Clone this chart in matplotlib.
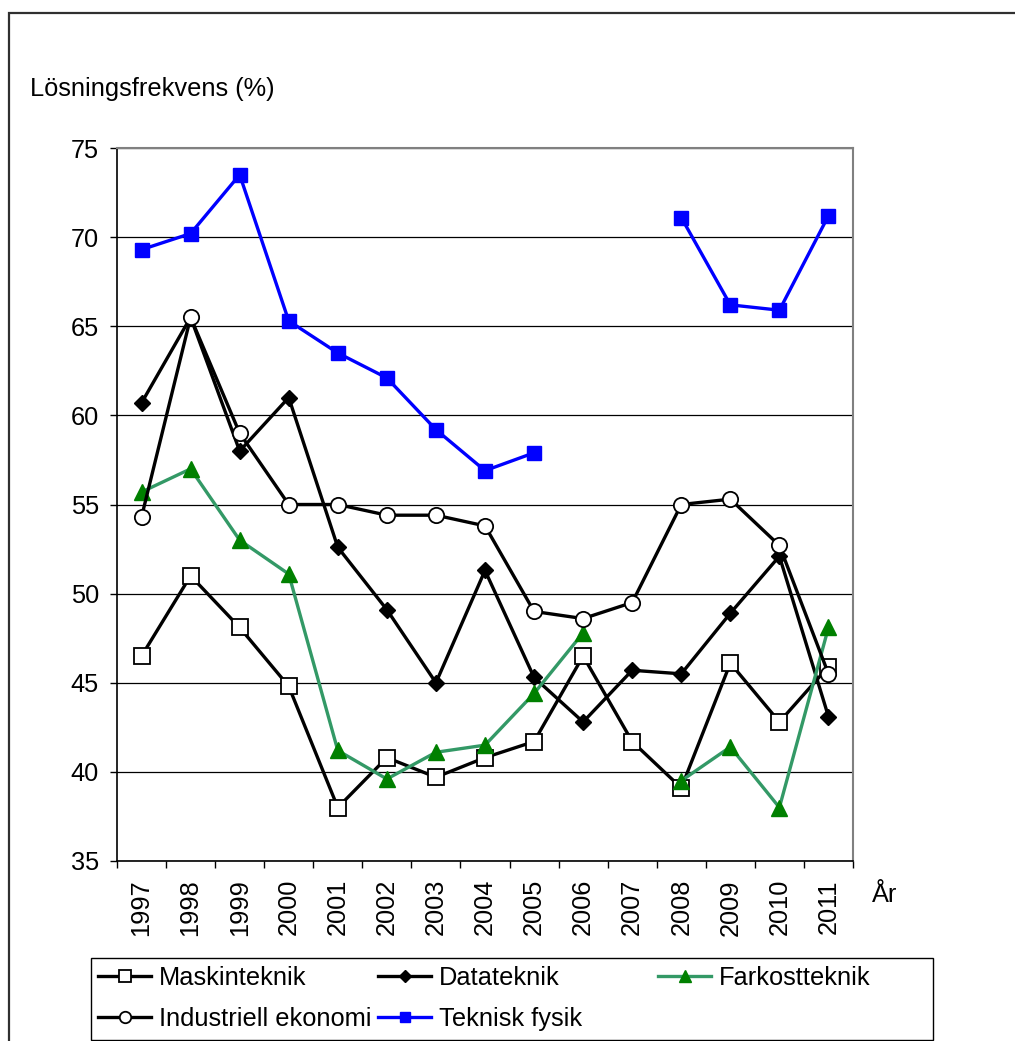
import numpy as np
import matplotlib
matplotlib.use("Agg")
from matplotlib import pyplot as plt
from matplotlib.lines import Line2D
from matplotlib.patches import Rectangle

plt.rcParams['font.family'] = ['Liberation Sans', 'DejaVu Sans']

# data (NaN = no value that year)
years = ['1997', '1998', '1999', '2000', '2001', '2002', '2003', '2004',
         '2005', '2006', '2007', '2008', '2009', '2010', '2011']
nan = np.nan
maskinteknik = [46.5, 51.0, 48.1, 44.8, 38.0, 40.8, 39.7, 40.8, 41.7, 46.5, 41.7, 39.1, 46.1, 42.8, 45.9]
datateknik = [60.7, 65.5, 58.0, 61.0, 52.6, 49.1, 45.0, 51.3, 45.3, 42.8, 45.7, 45.5, 48.9, 52.1, 43.1]
farkostteknik = [55.7, 57.0, 53.0, 51.1, 41.2, 39.6, 41.1, 41.5, 44.4, 47.8, nan, 39.5, 41.4, 38.0, 48.1]
industriell = [54.3, 65.5, 59.0, 55.0, 55.0, 54.4, 54.4, 53.8, 49.0, 48.6, 49.5, 55.0, 55.3, 52.7, 45.5]
teknisk_fysik = [69.3, 70.2, 73.5, 65.3, 63.5, 62.1, 59.2, 56.9, 57.9, nan, nan, 71.1, 66.2, 65.9, 71.2]

W, H = 1015, 1041
fig = plt.figure(figsize=(W / 100, H / 100), dpi=100)
ax = fig.add_axes([117 / W, 1 - 861 / H, (853 - 117) / W, (861 - 148) / H])

x = np.arange(len(years))
fs = 18.3

styles = {
    'Maskinteknik': dict(color='black', marker='s', ms=11, mfc='white', mec='black', mew=1.3),
    'Datateknik': dict(color='black', marker='D', ms=8.5, mfc='black', mec='black'),
    'Farkostteknik': dict(color='#339966', marker='^', ms=11, mfc='#008000', mec='#008000'),
    'Industriell ekonomi': dict(color='black', marker='o', ms=11, mfc='white', mec='black', mew=1.3),
    'Teknisk fysik': dict(color='#0000ff', marker='s', ms=10, mfc='#0000ff', mec='#0000ff'),
}
series = [('Maskinteknik', maskinteknik), ('Datateknik', datateknik),
          ('Farkostteknik', farkostteknik), ('Industriell ekonomi', industriell),
          ('Teknisk fysik', teknisk_fysik)]

for i, (name, vals) in enumerate(series):
    ax.plot(x, np.array(vals, dtype=float), lw=2.4, zorder=3 + i, clip_on=False, **styles[name])

ax.set_xlim(-0.5, len(years) - 0.5)
ax.set_ylim(35, 75)
ax.set_yticks(range(35, 80, 5))
ax.set_xticks(x)
ax.set_xticklabels(years, rotation=90, fontsize=fs)
ax.set_xticks(np.arange(-0.5, len(years)), minor=True)
ax.tick_params(axis='x', which='major', length=0, pad=13)
ax.tick_params(axis='x', which='minor', length=5, width=1, direction='out')
ax.tick_params(axis='y', length=5, width=1, direction='out', pad=8, labelsize=fs)
ax.yaxis.grid(True, color='black', lw=0.9)
ax.set_axisbelow(True)
for side in ['top', 'right']:
    ax.spines[side].set_color('#808080')
    ax.spines[side].set_linewidth(1.5)
for side in ['left', 'bottom']:
    ax.spines[side].set_color('black')
    ax.spines[side].set_linewidth(1.2)

fig.text(30 / W, 1 - 89 / H, 'Lösningsfrekvens (%)', fontsize=fs, va='center', ha='left')
fig.text(872 / W, 1 - 895 / H, 'År', fontsize=fs, va='center', ha='left')

# outer frame (only left and top edges are inside the picture)
fig.patches.append(Rectangle((9 / W, -0.1), 1.2, 1.1 - 13 / H, transform=fig.transFigure,
                             fill=False, edgecolor='#303030', lw=1.6))

# legend: three columns placed like the original, one frame around them
def handle(name, scale=0.75):
    st = dict(styles[name])
    st['ms'] = st['ms'] * scale
    return Line2D([], [], lw=2.4, label=name, **st)

columns = [(98, ['Maskinteknik', 'Industriell ekonomi']),
           (378, ['Datateknik', 'Teknisk fysik']),
           (658, ['Farkostteknik'])]
for left, names in columns:
    fig.legend(handles=[handle(n) for n in names], loc='upper left',
               bbox_to_anchor=(left / W, 1 - 966 / H), frameon=False, fontsize=fs,
               borderpad=0, borderaxespad=0, handlelength=2.1, handletextpad=0.3,
               labelspacing=0.67)
fig.patches.append(Rectangle((91 / W, 1 - 1040 / H), (933 - 91) / W, (1040 - 958) / H,
                             transform=fig.transFigure, fill=False, edgecolor='black', lw=1))

fig.savefig('out.png', dpi=100)
